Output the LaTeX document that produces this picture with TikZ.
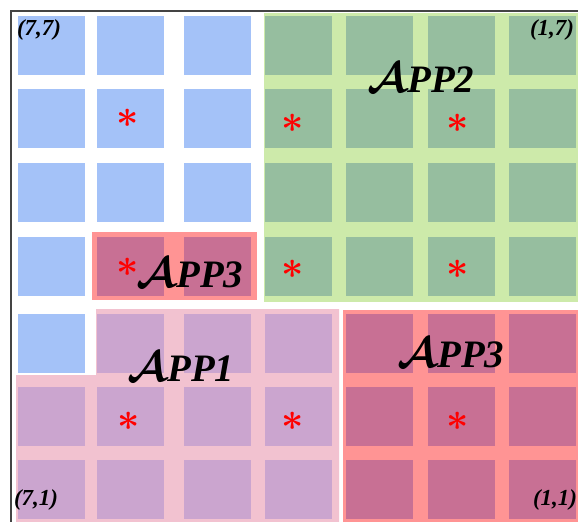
\documentclass[tikz,border=0pt]{standalone}
\usepackage{graphicx}
\usepackage{amsmath,amssymb,bm}
\usepackage{fontspec}
\newfontfamily\labfont{Liberation Serif}
\definecolor{blueSq}{HTML}{A4C2F8}
\definecolor{greenBg}{HTML}{CDEAAA}
\definecolor{greenSq}{HTML}{96BE9F}
\definecolor{redBg}{HTML}{FF9494}
\definecolor{redSq}{HTML}{C87094}
\definecolor{pinkBg}{HTML}{F2C2D0}
\definecolor{pinkSq}{HTML}{CBA5CF}
\definecolor{frameCol}{HTML}{444444}
\newcommand\calA{{\normalsize\scalebox{4.3}{$\boldsymbol{\mathcal{A}}$}}}
\newcommand\redast{{\normalsize\scalebox{3.9}{$\boldsymbol{\ast}$}}}
\tikzset{
  cell/.style={draw=none, minimum width=67bp, minimum height=59bp, inner sep=0pt, outer sep=0pt, anchor=north west},
  applab/.style={font=\labfont\fontsize{39}{39}\selectfont\bfseries\itshape, inner sep=0pt},
  cornerlab/.style={font=\labfont\fontsize{23}{23}\selectfont\bfseries\itshape, inner sep=0pt},
  starlab/.style={text=red, inner sep=0pt},
}
\begin{document}
\begin{tikzpicture}[x=1bp,y=-1bp]
\useasboundingbox (0,0) rectangle (578,522);
\fill[white] (0,0) rectangle (578,522);
\def\colx{{18,97,184,265,346,428,509}}
\def\rowy{{16,89,163,237,314,387,460}}
% frame
\draw[frameCol, line width=1.3bp] (11,522) -- (11,11) -- (578,11);
% region backgrounds
\fill[greenBg] (264,13) rectangle (578,302);
\fill[redBg] (92,232) rectangle (257,300);
\fill[pinkBg] (16,375) -- (96,375) -- (96,309) -- (339,309) -- (339,522) -- (16,522) -- cycle;
\fill[redBg] (343,310) rectangle (578,522);
% blue cells
\foreach \c/\r in {1/1,2/1,3/1,1/2,2/2,3/2,1/3,2/3,3/3,1/4,1/5} {
  \pgfmathsetmacro\xx{\colx[\c-1]}
  \pgfmathsetmacro\yy{\rowy[\r-1]}
  \node[cell, fill=blueSq] (b-\c-\r) at (\xx,\yy) {};
}
% small APP3 cells
\foreach \c/\r in {2/4,3/4} {
  \pgfmathsetmacro\xx{\colx[\c-1]}
  \pgfmathsetmacro\yy{\rowy[\r-1]}
  \node[cell, fill=redSq] (r-\c-\r) at (\xx,\yy) {};
}
% green cells
\foreach \c in {4,5,6,7} {
  \foreach \r in {1,2,3,4} {
    \pgfmathsetmacro\xx{\colx[\c-1]}
    \pgfmathsetmacro\yy{\rowy[\r-1]}
    \node[cell, fill=greenSq] (g-\c-\r) at (\xx,\yy) {};
  }
}
% APP1 cells
\foreach \c/\r in {2/5,3/5,4/5,1/6,2/6,3/6,4/6,1/7,2/7,3/7,4/7} {
  \pgfmathsetmacro\xx{\colx[\c-1]}
  \pgfmathsetmacro\yy{\rowy[\r-1]}
  \node[cell, fill=pinkSq] (p-\c-\r) at (\xx,\yy) {};
}
% large APP3 cells
\foreach \c in {5,6,7} {
  \foreach \r in {5,6,7} {
    \pgfmathsetmacro\xx{\colx[\c-1]}
    \pgfmathsetmacro\yy{\rowy[\r-1]}
    \node[cell, fill=redSq] (q-\c-\r) at (\xx,\yy) {};
  }
}
% stars
\node[starlab] (st1) at (128,118) {\redast};
\node[starlab] (st2) at (128,267) {\redast};
\node[starlab] (st3) at (293,123) {\redast};
\node[starlab] (st4) at (458,123) {\redast};
\node[starlab] (st5) at (293,269) {\redast};
\node[starlab] (st6) at (458,269) {\redast};
\node[starlab] (st7) at (129,421) {\redast};
\node[starlab] (st8) at (293,421) {\redast};
\node[starlab] (st9) at (458,421) {\redast};
% app labels
\node[applab] (app2) at (421,78) {\calA PP2};
\node[applab] (app3a) at (190,273) {\calA PP3};
\node[applab] (app1) at (181,367) {\calA PP1};
\node[applab] (app3b) at (451,353) {\calA PP3};
% corner labels
\node[cornerlab] (c77) at (39,30) {(7,7)};
\node[cornerlab] (c17) at (552,30) {(1,7)};
\node[cornerlab] (c71) at (36,500) {(7,1)};
\node[cornerlab] (c11) at (555,500) {(1,1)};
\end{tikzpicture}
\end{document}
